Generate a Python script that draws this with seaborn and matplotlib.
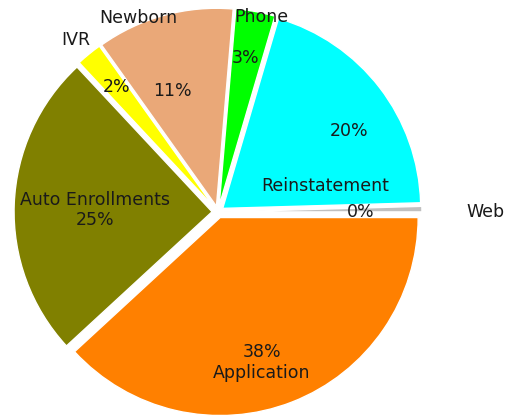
import matplotlib
matplotlib.use('Agg')
import matplotlib.pyplot as plt
import seaborn as sns

# slice order runs counter-clockwise from 3 o'clock
categories = ['Web', 'Reinstatement', 'Phone', 'Newborn', 'IVR', 'Auto Enrollments', 'Application']
shares = [0.45, 20.0, 3.2, 11.2, 2.1, 24.9, 38.15]
colors = ['#C0C0C0', '#00FFFF', '#00FF00', '#EAA878', '#FFFF00', '#808000', '#FF8000']

# label text positions (data units, pie radius = 1)
name_pos = {
    'Web': (1.253, 0.0, 'left'),
    'Reinstatement': (0.54, 0.13, 'center'),
    'Phone': (0.22, 0.985, 'center'),
    'Newborn': (-0.40, 0.98, 'center'),
    'IVR': (-0.72, 0.87, 'center'),
}
pct_pos = {
    'Web': (0.72, 0.0),
    'Reinstatement': (0.66, 0.41),
    'Phone': (0.14, 0.78),
    'Newborn': (-0.23, 0.61),
    'IVR': (-0.51, 0.63),
}
combined_pos = {
    'Auto Enrollments': ((-0.62, 0.01), '{name}\n{pct}'),
    'Application': ((0.22, -0.76), '{pct}\n{name}'),
}

sns.set_theme(style='white')
plt.rcParams['font.family'] = ['DejaVu Sans']

fig = plt.figure(figsize=(5.08, 4.2), dpi=100)
R = 198
cx, cy = 218, 212
ax = fig.add_axes([(cx - R) / 508, (420 - cy - R) / 420, 2 * R / 508, 2 * R / 420])

wedges, _ = ax.pie(shares, colors=colors, startangle=0, counterclock=True,
                   explode=[0.03] * len(shares),
                   wedgeprops=dict(edgecolor='white', linewidth=1.0))
for w in wedges:
    w.set_clip_on(False)
ax.set_xlim(-1, 1)
ax.set_ylim(-1, 1)
ax.set_aspect('equal')
ax.axis('off')

fs = 12.5
txt = '#1a1a1a'
for name, share in zip(categories, shares):
    pct = f'{round(share):.0f}%'
    if name in combined_pos:
        (x, y), fmt = combined_pos[name]
        ax.text(x, y, fmt.format(name=name, pct=pct), ha='center', va='center',
                fontsize=fs, color=txt, linespacing=1.2)
    else:
        x, y, ha = name_pos[name]
        ax.text(x, y, name, ha=ha, va='center', fontsize=fs, color=txt)
        x, y = pct_pos[name]
        ax.text(x, y, pct, ha='center', va='center', fontsize=fs, color=txt)

fig.savefig('out.png', dpi=100)
